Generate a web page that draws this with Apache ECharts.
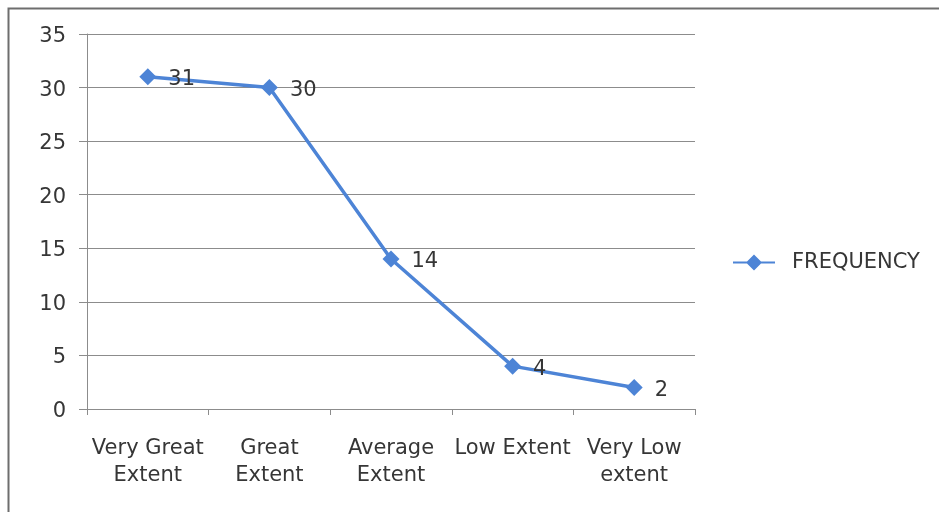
<!DOCTYPE html>
<html>
<head>
<meta charset="utf-8">
<script src="https://cdn.jsdelivr.net/npm/echarts@6/dist/echarts.min.js"></script>
<style>
  html, body { margin: 0; padding: 0; background: #ffffff; }
  #chart { width: 939px; height: 512px; }
</style>
</head>
<body>
<div id="chart"></div>
<script>
// Extent categories and response counts
const categories = ['Very Great\nExtent', 'Great\nExtent', 'Average\nExtent', 'Low Extent', 'Very Low\nextent'];
const frequency = [31, 30, 14, 4, 2];
const seriesName = 'FREQUENCY';
const yTicks = { min: 0, max: 35, step: 5 };

const textColor = '#363636';
const gridColor = '#8c8c8c';
const lineColor = '#4d84d6';
const fontFamily = '"DejaVu Sans", "Open Sans", sans-serif';
const fontSize = 21;

const chart = echarts.init(document.getElementById('chart'), null, { renderer: 'canvas' });

chart.setOption({
  animation: false,
  backgroundColor: '#ffffff',
  textStyle: { fontFamily: fontFamily, color: textColor },
  graphic: [{
    type: 'rect',
    shape: { x: 8.5, y: 8.5, width: 960, height: 540 },
    style: { fill: 'none', stroke: '#6e6e6e', lineWidth: 2 },
    silent: true,
    z: -1
  }],
  grid: { left: 87, right: 244, top: 34, bottom: 103, containLabel: false },
  legend: {
    orient: 'vertical',
    left: 728,
    top: 247,
    itemWidth: 42,
    itemHeight: 16,
    itemGap: 10,
    textStyle: { fontSize: fontSize, color: textColor, fontFamily: fontFamily, padding: [3, 0, 0, 12] },
    data: [{ name: seriesName, icon: 'path://M0,7 L14,7 L21,0 L28,7 L42,7 L42,9 L28,9 L21,16 L14,9 L0,9 Z' }]
  },
  xAxis: {
    type: 'category',
    data: categories,
    boundaryGap: true,
    axisLine: { show: true, lineStyle: { color: gridColor, width: 1 } },
    axisTick: { show: true, length: 6, alignWithLabel: false, lineStyle: { color: gridColor } },
    axisLabel: {
      interval: 0,
      margin: 26,
      fontSize: fontSize,
      lineHeight: 27,
      color: textColor,
      fontFamily: fontFamily
    }
  },
  yAxis: {
    type: 'value',
    min: yTicks.min,
    max: yTicks.max,
    interval: yTicks.step,
    axisLine: { show: true, lineStyle: { color: gridColor, width: 1 } },
    axisTick: { show: true, inside: false, length: 8, lineStyle: { color: gridColor } },
    splitLine: { show: true, lineStyle: { color: gridColor, width: 1 } },
    axisLabel: {
      margin: 21,
      formatter: '{v|{value}}',
      rich: { v: { fontSize: fontSize, color: textColor, fontFamily: fontFamily, padding: [5, 0, 0, 0] } }
    }
  },
  series: [{
    name: seriesName,
    type: 'line',
    data: frequency,
    symbol: 'diamond',
    symbolSize: 17,
    lineStyle: { color: lineColor, width: 3.5 },
    itemStyle: { color: lineColor },
    label: {
      show: true,
      position: 'right',
      distance: 12,
      offset: [0, 3],
      fontSize: fontSize,
      color: textColor,
      fontFamily: fontFamily
    }
  }]
});
</script>
</body>
</html>
